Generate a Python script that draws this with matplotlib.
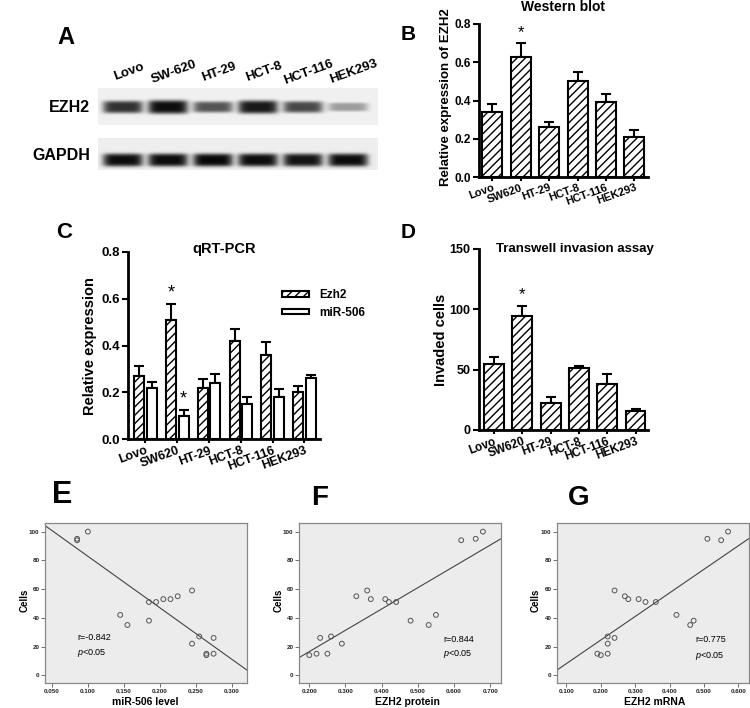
import numpy as np
import matplotlib
matplotlib.use('Agg')
import matplotlib.pyplot as plt
from matplotlib.patches import Patch

plt.rcParams['font.family'] = ['Liberation Sans', 'DejaVu Sans']
plt.rcParams['hatch.linewidth'] = 1.0
plt.rcParams['mathtext.fontset'] = 'custom'
plt.rcParams['mathtext.it'] = 'Liberation Sans:italic'
plt.rcParams['mathtext.rm'] = 'Liberation Sans'

W, H = 750, 708

# ---- data ----
cell_lines = ['Lovo', 'SW620', 'HT-29', 'HCT-8', 'HCT-116', 'HEK293']
blot_lanes = ['Lovo', 'SW-620', 'HT-29', 'HCT-8', 'HCT-116', 'HEK293']
ezh2_band = [0.8, 0.95, 0.65, 0.9, 0.7, 0.35]   # band darkness
gapdh_band = [0.95, 0.95, 0.97, 0.95, 0.92, 0.95]

wb_mean = [0.34, 0.63, 0.26, 0.50, 0.39, 0.21]
wb_err = [0.04, 0.07, 0.025, 0.05, 0.045, 0.035]

qpcr_ezh2 = [0.27, 0.51, 0.22, 0.42, 0.36, 0.20]
qpcr_ezh2_err = [0.043, 0.067, 0.037, 0.051, 0.053, 0.026]
qpcr_mir = [0.22, 0.10, 0.24, 0.15, 0.18, 0.26]
qpcr_mir_err = [0.022, 0.024, 0.037, 0.031, 0.032, 0.012]

inv_mean = [55, 94, 22, 51, 38, 16]
inv_err = [5, 8.5, 5, 2, 8, 1.5]

mir_level = [0.085, 0.085, 0.10, 0.145, 0.155, 0.185, 0.185, 0.195, 0.205,
             0.215, 0.225, 0.245, 0.245, 0.255, 0.265, 0.265, 0.275, 0.275]
cells_e = [95, 94, 100, 42, 35, 51, 38, 51, 53, 53, 55, 59, 22, 27, 15, 14, 26, 15]

ezh2_protein = [0.20, 0.22, 0.23, 0.26, 0.25, 0.29, 0.33, 0.36, 0.37,
                0.41, 0.42, 0.44, 0.48, 0.53, 0.55, 0.62, 0.66, 0.68]
cells_f = [14, 15, 26, 27, 15, 22, 55, 59, 53, 53, 51, 51, 38, 35, 42, 94, 95, 100]

ezh2_mrna = [0.19, 0.20, 0.22, 0.22, 0.22, 0.24, 0.24, 0.27, 0.28,
             0.31, 0.33, 0.36, 0.42, 0.46, 0.47, 0.51, 0.55, 0.57]
cells_g = [15, 14, 27, 22, 15, 26, 59, 55, 53, 53, 51, 51, 42, 35, 38, 95, 94, 100]

fig = plt.figure(figsize=(7.5, 7.08), dpi=100)


def add_ax(l, t, r, b):
    return fig.add_axes([l / W, 1 - b / H, (r - l) / W, (b - t) / H])


def ftext(x, y, s, **kw):
    fig.text(x / W, 1 - y / H, s, **kw)


# ---- A: western blot ----
axA = add_ax(98, 88, 378, 170)
nx, ny = 280, 82
xx, yy = np.meshgrid(np.arange(nx) + 0.5, np.arange(ny) + 0.5)
img = np.ones((ny, nx))
img[0:37, :] = 0.94
img[50:82, :] = 0.93
lane_c = 25 + 45 * np.arange(len(blot_lanes))
for c, s1, s2 in zip(lane_c, ezh2_band, gapdh_band):
    px = np.exp(-((xx - c) / 20.0) ** 6)
    d1 = s1 * px * np.exp(-((yy - 19) / (3.0 + 4.0 * s1)) ** 4)
    d2 = s2 * px * np.exp(-((yy - 72) / 6.5) ** 4)
    img = img * (1 - d1) * (1 - d2)
axA.imshow(img, cmap='gray', vmin=0, vmax=1, extent=(0, nx, ny, 0),
           aspect='auto', interpolation='bilinear')
axA.axis('off')
for c, lab in zip(lane_c, blot_lanes):
    ftext(98 + c + 6, 72, lab, rotation=20, ha='center', va='center',
          fontsize=9.5, weight='bold')
ftext(90, 108, 'EZH2', ha='right', va='center', fontsize=11.5, weight='bold')
ftext(90, 156, 'GAPDH', ha='right', va='center', fontsize=11.5, weight='bold')


def bar_style(ax, ylim, yticks, fmt, fs):
    for s in ['top', 'right']:
        ax.spines[s].set_visible(False)
    for s in ['left', 'bottom']:
        ax.spines[s].set_linewidth(2)
    ax.set_ylim(*ylim)
    ax.set_yticks(yticks)
    ax.set_yticklabels([fmt.format(v) for v in yticks], fontsize=fs, weight='bold')
    ax.tick_params(axis='y', length=4, width=1.5, pad=2)
    ax.tick_params(axis='x', length=3, width=1.5, pad=1)
    ax.set_xticks(np.arange(len(cell_lines)))
    ax.set_xticklabels(cell_lines, rotation=20, ha='right', rotation_mode='anchor',
                       fontsize=fs - 0.5, weight='bold')


def bars(ax, x, mean, err, width, hatch):
    ax.bar(x, mean, width, color='white', edgecolor='black', hatch=hatch,
           linewidth=1.5, zorder=2)
    ax.errorbar(x, mean, yerr=[np.zeros(len(err)), err], fmt='none', ecolor='black',
                elinewidth=1.5, capsize=3.5, capthick=1.5, zorder=1)


x6 = np.arange(len(cell_lines))

# ---- B ----
axB = add_ax(479, 24, 648, 177)
bars(axB, x6, wb_mean, wb_err, 0.7, '////')
axB.set_xlim(-0.47, 5.48)
bar_style(axB, (0, 0.8), [0, 0.2, 0.4, 0.6, 0.8], '{:.1f}', 8.5)
axB.text(1, wb_mean[1] + wb_err[1] + 0.015, '*', ha='center', va='bottom', fontsize=12)
ftext(563, 7, 'Western blot', ha='center', va='center', fontsize=10, weight='bold')
ftext(446, 97, 'Relative expression of EZH2', rotation=90, ha='center', va='center',
      fontsize=9.5, weight='bold')

# ---- C ----
axC = add_ax(128, 252, 320, 439)
bars(axC, x6 - 0.197, qpcr_ezh2, qpcr_ezh2_err, 0.315, '////')
bars(axC, x6 + 0.197, qpcr_mir, qpcr_mir_err, 0.315, None)
axC.set_xlim(-0.55, 5.49)
bar_style(axC, (0, 0.8), [0, 0.2, 0.4, 0.6, 0.8], '{:.1f}', 9.5)
axC.text(1 - 0.197, qpcr_ezh2[1] + qpcr_ezh2_err[1] + 0.01, '*', ha='center',
         va='bottom', fontsize=13)
axC.text(1 + 0.197, qpcr_mir[1] + qpcr_mir_err[1] + 0.01, '*', ha='center',
         va='bottom', fontsize=13)
handles = [Patch(facecolor='white', edgecolor='black', hatch='////', linewidth=1.5,
                 label='Ezh2'),
           Patch(facecolor='white', edgecolor='black', linewidth=1.5, label='miR-506')]
axC.legend(handles=handles, loc='upper left', bbox_to_anchor=(0.80, 0.80),
           frameon=False, handlelength=2.3, handleheight=0.4, labelspacing=0.45,
           handletextpad=0.9, borderaxespad=0, borderpad=0,
           prop={'weight': 'bold', 'size': 8.5})
ftext(224, 249, 'qRT-PCR', ha='center', va='center', fontsize=10.5, weight='bold')
ftext(90, 346, 'Relative expression', rotation=90, ha='center', va='center',
      fontsize=10.5, weight='bold')

# ---- D ----
axD = add_ax(479, 248.7, 648, 430)
bars(axD, x6, inv_mean, inv_err, 0.7, '////')
axD.set_xlim(-0.53, 5.44)
bar_style(axD, (0, 150), [0, 50, 100, 150], '{:d}', 9)
axD.text(1, inv_mean[1] + inv_err[1] + 3, '*', ha='center', va='bottom', fontsize=12)
ftext(575, 249, 'Transwell invasion assay', ha='center', va='center', fontsize=9.5,
      weight='bold')
ftext(441, 340, 'Invaded cells', rotation=90, ha='center', va='center',
      fontsize=10.5, weight='bold')


# ---- E, F, G scatter ----
def scatter_panel(l, r, xs, ys, xlim, xticks, xlabel, rstr, rpos, lab_x, cells_x):
    ax = add_ax(l, 523, r, 683)
    ax.set_facecolor('#ececec')
    ax.scatter(xs, ys, s=12, facecolors='none', edgecolors='#555555', linewidths=0.7,
               zorder=3)
    k, b0 = np.polyfit(xs, ys, 1)
    xl = np.array(xlim)
    ax.plot(xl, b0 + k * xl, color='#444444', lw=0.8, zorder=2)
    ax.set_xlim(*xlim)
    ax.set_ylim(-5.4, 106)
    ax.set_yticks([0, 20, 40, 60, 80, 100])
    ax.set_xticks(xticks)
    ax.set_xticklabels(['{:.3f}'.format(t) for t in xticks])
    ax.tick_params(labelsize=4.5, length=3, width=0.6, color='#555555', pad=1,
                   labelcolor='#222222')
    for t in ax.get_xticklabels() + ax.get_yticklabels():
        t.set_weight('bold')
    for s in ax.spines.values():
        s.set_color('#888888')
        s.set_linewidth(0.9)
    ax.text(rpos[0], rpos[1], rstr, transform=ax.transAxes, fontsize=6.5,
            va='center', ha='left')
    ax.text(rpos[0], rpos[2], r'$\it{p}$<0.05', transform=ax.transAxes, fontsize=6.5,
            va='center', ha='left')
    ftext(lab_x, 702, xlabel, ha='center', va='center', fontsize=7.5, weight='bold')
    ftext(cells_x, 600, 'Cells', rotation=90, ha='center', va='center', fontsize=7,
          weight='bold')
    return ax


scatter_panel(45, 247, mir_level, cells_e, (0.0403, 0.3215),
              [0.05, 0.10, 0.15, 0.20, 0.25, 0.30], 'miR-506 level', 'r=-0.842',
              (0.16, 0.283, 0.1875), 145, 25)
scatter_panel(299, 501, ezh2_protein, cells_f, (0.1715, 0.730),
              [0.2, 0.3, 0.4, 0.5, 0.6, 0.7], 'EZH2 protein', 'r=0.844',
              (0.714, 0.275, 0.181), 407, 279)
scatter_panel(557, 749, ezh2_mrna, cells_g, (0.0726, 0.631),
              [0.1, 0.2, 0.3, 0.4, 0.5, 0.6], 'EZH2 mRNA', 'r=0.775',
              (0.719, 0.269, 0.171), 655, 536)

# ---- panel letters ----
for lx, ly, let, fs in [(66, 37, 'A', 17), (408, 35, 'B', 15), (64, 232, 'C', 16),
                        (408, 232, 'D', 15), (62, 495, 'E', 22), (320, 498, 'F', 20),
                        (579, 498, 'G', 20)]:
    ftext(lx, ly, let, ha='center', va='center', fontsize=fs, weight='bold')

fig.savefig('out.png', dpi=100)
